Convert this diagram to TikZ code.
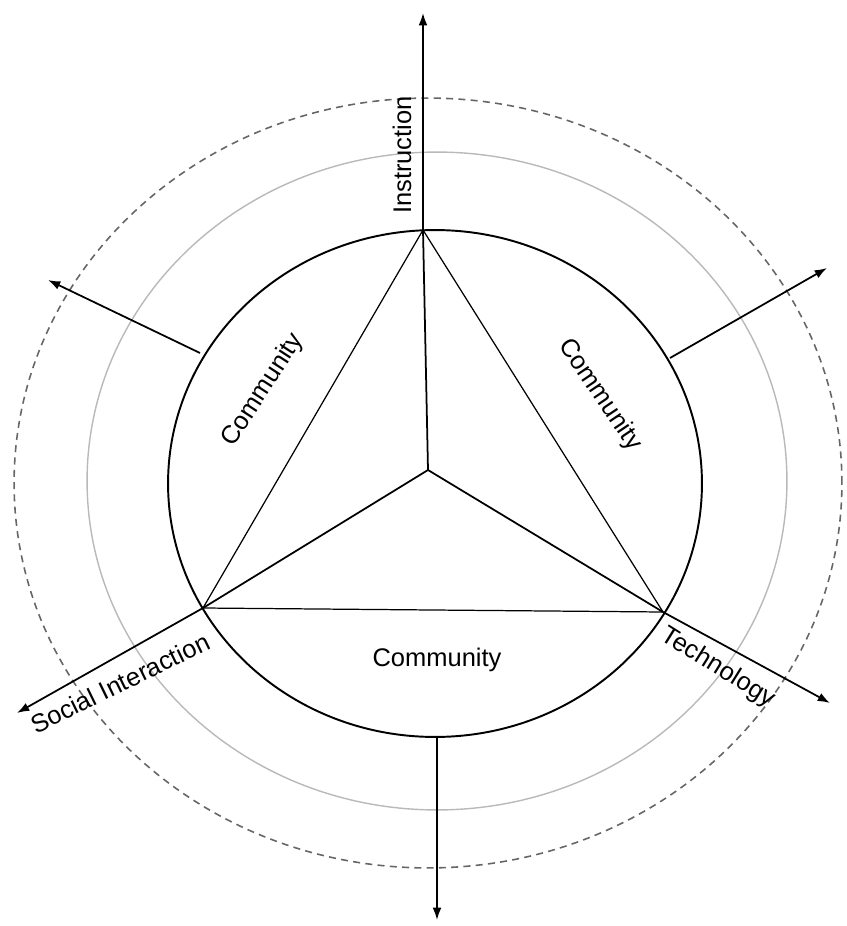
\documentclass[tikz,border=0pt]{standalone}
\usepackage{fontspec}
\setmainfont{Liberation Sans}
\usetikzlibrary{arrows.meta}
\tikzset{
  ring/.style={line width=1.1pt},
  halo/.style={line width=0.8pt, gray!55},
  outer/.style={line width=0.9pt, gray!80!black, dash pattern=on 4pt off 3pt},
  edge/.style={line width=0.7pt},
  spoke/.style={line width=1pt},
  axis/.style={line width=1pt, -{Latex[length=7pt,width=5pt]}},
  lbl/.style={font=\fontsize{14.5}{17}\selectfont, inner sep=0pt},
}
\begin{document}
\begin{tikzpicture}[x=0.02cm, y=-0.02cm]
\useasboundingbox (0,0) rectangle (846,926);
% rings, outermost first
\draw[outer] (428,483) ellipse [x radius=8.28cm, y radius=7.7cm];
\draw[halo] (437,481) ellipse [x radius=7.0cm, y radius=6.58cm];
\draw[ring] (435,483.5) ellipse [x radius=5.34cm, y radius=5.07cm];

% triangle corners and hub
\coordinate (hub) at (428,470);
\coordinate (ins) at (423,230);
\coordinate (soc) at (203,608);
\coordinate (tec) at (663,612);
% where the free axes leave the ring
\coordinate (bul) at (200,353);
\coordinate (bur) at (670,358);
\coordinate (bdn) at (437,737);
% arrow ends
\coordinate (tins) at (423,13);
\coordinate (tsoc) at (17,713);
\coordinate (ttec) at (830,703);
\coordinate (tul) at (48,280);
\coordinate (tur) at (827,268);
\coordinate (tdn) at (437,920);

\draw[edge] (ins) -- (soc) -- (tec) -- cycle;
\draw[spoke] (hub) -- (ins);
\draw[spoke] (hub) -- (soc);
\draw[spoke] (hub) -- (tec);

\draw[axis] (ins) -- (tins);
\draw[axis] (soc) -- (tsoc);
\draw[axis] (tec) -- (ttec);
\draw[axis] (bul) -- (tul);
\draw[axis] (bur) -- (tur);
\draw[axis] (bdn) -- (tdn);

\node[lbl, rotate=90] (instr) at (402,155) {Instruction};
\node[lbl, rotate=26] (social) at (120,683) {Social Interaction};
\node[lbl, rotate=-32] (techn) at (718,668) {Technology};
\node[lbl, rotate=57] (comL) at (263,390) {Community};
\node[lbl, rotate=-56] (comR) at (600,395) {Community};
\node[lbl] (comB) at (437,660) {Community};
\end{tikzpicture}
\end{document}
